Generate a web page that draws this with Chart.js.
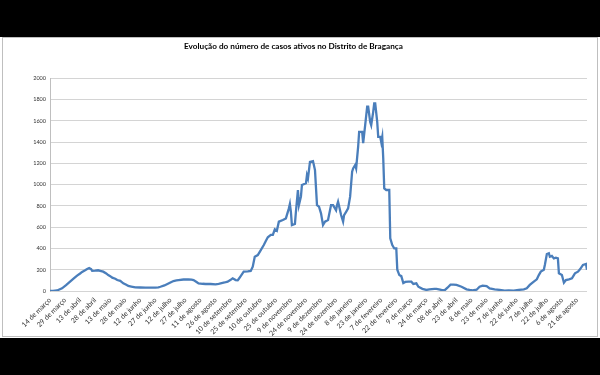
<!DOCTYPE html>
<html>
<head>
<meta charset="utf-8">
<script src="https://cdn.jsdelivr.net/npm/chart.js@4"></script>
<style>
  html, body { margin: 0; padding: 0; background: #000; }
  #c { display: block; }
</style>
</head>
<body>
<canvas id="c" width="600" height="375"></canvas>
<script>
const chartTitle = "Evolução do número de casos ativos no Distrito de Bragança";

// date labels shown every 15 days, starting 14 de março (day 0)
const dateLabels = [
  "14 de março", "29 de março", "13 de abril", "28 de abril", "13 de maio", "28 de maio",
  "12 de junho", "27 de junho", "12 de julho", "27 de julho", "11 de agosto", "26 de agosto",
  "10 de setembro", "25 de setembro", "10 de outubro", "25 de outubro", "9 de novembro",
  "24 de novembro", "9 de dezembro", "24 de dezembro", "8 de janeiro", "23 de janeiro",
  "7 de fevereiro", "22 de fevereiro", "9 de março", "24 de março", "08 de abril",
  "23 de abril", "8 de maio", "23 de maio", "7 de junho", "22 de junho", "7 de julho",
  "22 de julho", "6 de agosto", "21 de agosto"
];
const labelStepDays = 15;
const lastDay = 535;

// day index (days since 14 de março) and active cases
const dayIndex = [
  0, 3, 7, 12, 16, 20, 24, 27, 30, 32, 35, 37, 39, 41, 42, 45, 48, 50, 53, 56, 58, 60, 62, 65, 67,
  70, 73, 76, 78, 81, 85, 90, 95, 100, 105, 108, 110, 114, 117, 120, 123, 126, 128, 133, 138, 141,
  143, 146, 148, 152, 155, 160, 165, 168, 170, 174, 177, 180, 182, 185, 187, 188, 190, 193, 197,
  200, 202, 204, 207, 210, 213, 215, 217, 220, 222, 224, 226, 228, 232, 235, 238, 239, 240, 241,
  244, 245, 247, 248, 250, 251, 255, 256, 257, 259, 262, 264, 266, 268, 270, 272, 274, 277, 280,
  282, 285, 286, 287, 288, 290, 292, 293, 295, 297, 299, 301, 302, 304, 305, 307, 308, 311, 312,
  314, 316, 317, 319, 320, 322, 323, 324, 326, 327, 329, 330, 331, 332, 333, 335, 338, 339, 341,
  343, 345, 346, 348, 350, 352, 354, 357, 360, 362, 365, 367, 371, 375, 378, 383, 385, 390, 393,
  396, 399, 402, 405, 410, 415, 418, 421, 425, 428, 431, 435, 438, 443, 448, 453, 457, 462, 467,
  472, 475, 478, 482, 485, 487, 489, 492, 493, 495, 497, 498, 500, 502, 504, 506, 507, 510, 512,
  514, 517, 520, 523, 526, 528, 531, 534, 535
];
const activeCases = [
  0, 2, 5, 25, 55, 88, 120, 145, 165, 180, 195, 207, 215, 205, 190, 192, 195, 190, 182, 165, 150, 140, 125, 115, 103,
  95, 72, 58, 47, 42, 35, 33, 31, 32, 31, 35, 40, 52, 66, 80, 94, 100, 103, 108, 110, 108,
  103, 85, 72, 68, 66, 66, 63, 68, 72, 80, 88, 105, 119, 103, 100, 113, 140, 182, 185,
  188, 228, 322, 338, 385, 432, 470, 505, 527, 527, 580, 567, 652, 667, 683, 777, 818, 745, 620,
  630, 745, 950, 808, 887, 997, 1013, 1090, 1060, 1215, 1222, 1137, 808, 793, 730, 620, 652, 667, 808,
  808, 760, 808, 840, 800, 714, 652, 714, 745, 777, 887, 1122, 1153, 1185, 1153, 1357, 1497, 1497, 1390,
  1560, 1733, 1733, 1590, 1560, 1685, 1765, 1765, 1590, 1450, 1450, 1400, 1450, 1247, 965, 950, 950, 495, 432,
  400, 400, 200, 150, 140, 75, 85, 88, 88, 66, 72, 40, 20, 10, 15, 20, 20, 10, 5,
  31, 60, 60, 57, 40, 16, 10, 5, 12, 40, 50, 47, 25, 16, 10, 3, 5, 3, 10,
  16, 25, 57, 88, 110, 150, 182, 200, 245, 348, 355, 322, 330, 307, 314, 307, 166, 150, 78,
  103, 110, 119, 166, 182, 204, 245, 254, 200
];

const yMin = 0, yMax = 2000, yStep = 200;

const points = dayIndex.map((d, i) => ({ x: d, y: activeCases[i] }));

const frame = {
  id: 'frame',
  beforeDraw(chart) {
    const ctx = chart.ctx;
    ctx.save();
    ctx.fillStyle = '#000';
    ctx.fillRect(0, 0, 600, 375);
    ctx.fillStyle = '#fff';
    ctx.fillRect(0, 37, 600, 301);
    ctx.strokeStyle = '#bfbfbf';
    ctx.lineWidth = 1;
    ctx.strokeRect(2.5, 37.5, 595, 299);
    ctx.restore();
  }
};

new Chart(document.getElementById('c'), {
  type: 'line',
  data: {
    datasets: [{
      data: points,
      borderColor: '#4a7ebb',
      borderWidth: 2.3,
      pointRadius: 0,
      tension: 0,
      fill: false
    }]
  },
  options: {
    responsive: false,
    animation: false,
    layout: { padding: { left: 0, right: 13, top: 0, bottom: 0 } },
    plugins: {
      legend: { display: false },
      tooltip: { enabled: false },
      title: {
        display: true,
        text: chartTitle,
        color: '#000',
        font: { family: 'Lato', size: 8.2, weight: 'bold' },
        padding: { top: 41, bottom: 27.5 }
      }
    },
    scales: {
      x: {
        type: 'linear',
        min: 0,
        max: lastDay,
        afterFit(scale) { scale.height = 84; },
        afterBuildTicks(scale) {
          scale.ticks = dateLabels.map((_, i) => ({ value: i * labelStepDays }));
        },
        grid: { display: false, drawTicks: false },
        border: { display: false },
        ticks: {
          autoSkip: false,
          minRotation: 45,
          maxRotation: 45,
          padding: 5,
          color: '#333',
          font: { family: 'Lato', size: 7 },
          callback: (v) => dateLabels[Math.round(v / labelStepDays)] ?? ''
        }
      },
      y: {
        min: yMin,
        max: yMax,
        afterFit(scale) { scale.width = 50; },
        grid: { color: '#d4d4d4', lineWidth: 1, drawTicks: false },
        border: { display: true, color: '#bfbfbf' },
        ticks: {
          stepSize: yStep,
          padding: 4,
          color: '#333',
          font: { family: 'Lato', size: 5.5 },
          callback: (v) => String(v)
        }
      }
    }
  },
  plugins: [frame]
});
</script>
</body>
</html>
